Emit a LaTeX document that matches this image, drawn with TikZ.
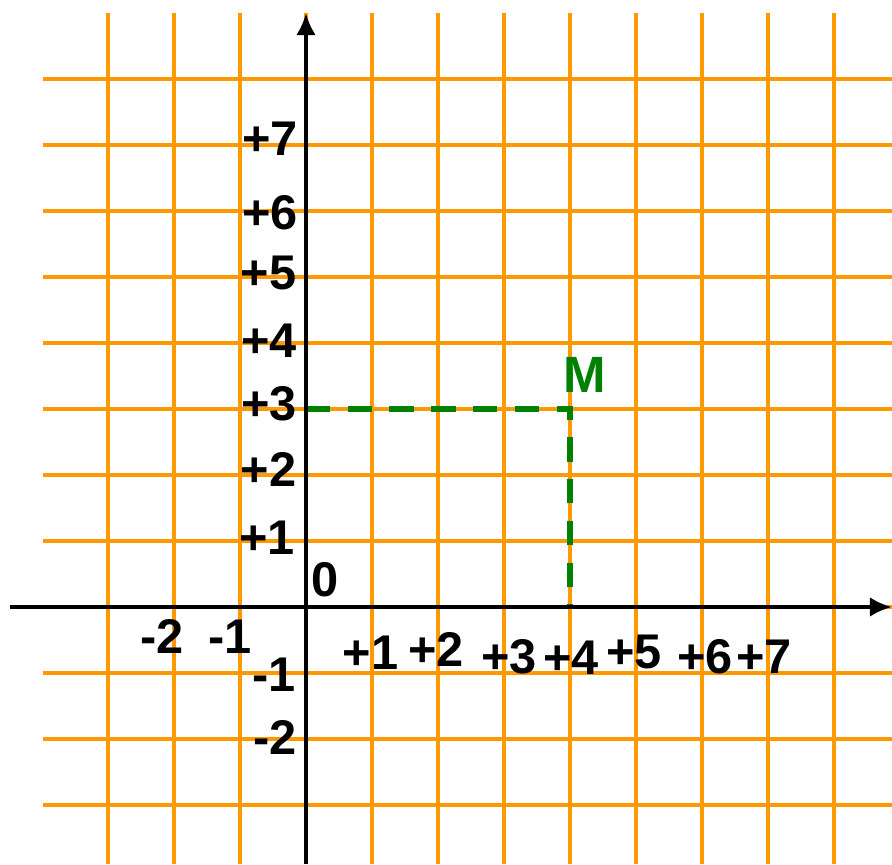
\documentclass[tikz,border=0pt]{standalone}
\usepackage{fontspec}
\setmainfont{Liberation Sans}
\usetikzlibrary{arrows.meta}
\definecolor{gridorange}{RGB}{255,153,0}
\definecolor{mgreen}{RGB}{0,128,0}
\begin{document}
\begin{tikzpicture}[
    gridline/.style={draw=gridorange,line width=1.8pt},
    axis/.style={draw=black,line width=1.9pt,-{Latex[length=9.5pt,width=8.5pt]}},
    tick/.style={inner sep=0pt,font=\fontsize{21}{24}\selectfont\bfseries},
    guide/.style={draw=mgreen,line width=2.6pt,dash pattern=on 10.5pt off 7.5pt}
]
\useasboundingbox (-4.636,-3.894) rectangle (8.879,9.197);

% grid
\foreach \k in {-3,...,8} {
  \draw[gridline] (\k,-3.894) -- (\k,9.0);
  \draw[gridline] (-3.985,\k) -- (8.879,\k);
}

% point M and its guide lines
\coordinate (Y3) at (0,3);
\coordinate (P)  at (4,3);
\coordinate (X4) at (4,0);
\draw[guide] (Y3) -- (P) -- (X4);

% axes
\coordinate (xs) at (-4.485,0);
\coordinate (xe) at (8.879,0);
\coordinate (ys) at (0,-3.894);
\coordinate (ye) at (0,9.0);
\draw[axis] (xs) -- (xe);
\draw[axis] (ys) -- (ye);

% labels
\node[tick]            (O)  at (0.29,0.41)    {0};
\node[tick,text=mgreen,font=\fontsize{22}{24}\selectfont\bfseries] (M) at (4.23,3.52) {M};

\node[tick,anchor=east] (y7) at (-0.12,7.1)   {+7};
\node[tick,anchor=east] (y6) at (-0.12,5.98)  {+6};
\node[tick,anchor=east] (y5) at (-0.14,5.06)  {+5};
\node[tick,anchor=east] (y4) at (-0.13,4.03)  {+4};
\node[tick,anchor=east] (y3) at (-0.13,3.08)  {+3};
\node[tick,anchor=east] (y2) at (-0.14,2.08)  {+2};
\node[tick,anchor=east] (y1) at (-0.16,1.05)  {+1};
\node[tick,anchor=east] (ym1) at (-0.15,-1.03) {-1};
\node[tick,anchor=east] (ym2) at (-0.13,-1.97) {-2};

\node[tick] (x1) at (0.98,-0.70) {+1};
\node[tick] (x2) at (1.97,-0.65) {+2};
\node[tick] (x3) at (3.08,-0.76) {+3};
\node[tick] (x4) at (4.02,-0.77) {+4};
\node[tick] (x5) at (4.97,-0.68) {+5};
\node[tick] (x6) at (6.05,-0.76) {+6};
\node[tick] (x7) at (6.94,-0.76) {+7};
\node[tick] (xm1) at (-1.15,-0.45) {-1};
\node[tick] (xm2) at (-2.18,-0.45) {-2};
\end{tikzpicture}
\end{document}
